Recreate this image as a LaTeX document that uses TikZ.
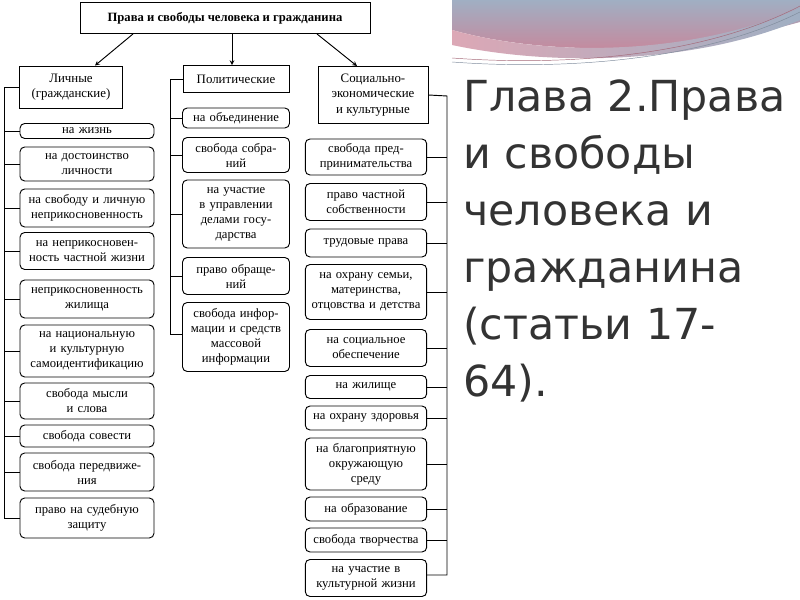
\documentclass[tikz,border=0pt]{standalone}
\usepackage{fontspec}
\setmainfont{Liberation Serif}
\newfontfamily\slidefont{DejaVu Sans}
\usetikzlibrary{arrows.meta}
\definecolor{slidegray}{RGB}{51,51,51}
\definecolor{swooshblue}{RGB}{160,175,195}
\definecolor{swooshpink}{RGB}{205,130,150}
\tikzset{>=stealth}
\tikzset{%
    head/.style={draw, thick, align=center, inner sep=1pt, font=\fontsize{11}{13}\selectfont},
    item/.style={draw, thick, rounded corners=4pt, align=center, inner sep=1pt,
        font=\fontsize{10.8}{12.8}\selectfont},
    branch/.style={thick}
}
\begin{document}
\begin{tikzpicture}[x=0.03cm,y=-0.03cm]
\useasboundingbox (0,0) rectangle (800,600);

% decoration of the slide
\shade[left color=swooshblue, right color=swooshpink, shading angle=0]
  (452,0) -- (800,0) -- (800,22) .. controls (700,50) and (560,60) .. (452,30) -- cycle;
\shade[left color=swooshpink!70, right color=swooshblue]
  (452,30) .. controls (560,60) and (700,52) .. (800,8) -- (800,20) .. controls (700,62) and (560,68) .. (452,45) -- cycle;
\draw[swooshpink!80!black, thin] (452,58) .. controls (560,66) and (700,58) .. (800,6);
\draw[swooshblue!80!black, thin] (452,62) .. controls (560,70) and (700,62) .. (800,12);

\node[text=slidegray, anchor=north west, align=left, inner sep=0pt,
      font=\slidefont\fontsize{36.5}{48.5}\selectfont] (title) at (463,80)
  {Глава 2.Права\\и свободы\\человека и\\гражданина\\(статьи 17-\\64).};

% header
\node[head, font=\bfseries\fontsize{10.8}{12.8}\selectfont, minimum width=290*0.03cm, minimum height=31*0.03cm]
  (main) at (225,18) {Права и свободы человека и гражданина};

\node[head, minimum width=103*0.03cm, minimum height=42*0.03cm] (pers) at (71,87) {Личные\\(гражданские)};
\node[head, minimum width=106*0.03cm, minimum height=27*0.03cm] (pol) at (236,79) {Политические};
\node[head, minimum width=110*0.03cm, minimum height=57*0.03cm] (soc) at (373,95) {Социально-\\экономические\\и культурные};

\draw[->, thick] (main.south -| 133,0) -- (pers.north -| 95,0);
\draw[->, thick] (main.south -| 232,0) -- (pol.north -| 232,0);
\draw[->, thick] (main.south -| 317,0) -- (soc.north -| 357,0);

% personal rights
\tikzset{lbox/.style={item, text width=130*0.03cm, minimum width=134*0.03cm}}
\node[lbox, minimum height=15*0.03cm] (p1) at (87,131) {на жизнь};
\node[lbox, minimum height=34*0.03cm] (p2) at (87,164) {на достоинство\\личности};
\node[lbox, minimum height=38*0.03cm] (p3) at (87,208) {на свободу и личную\\неприкосновенность};
\node[lbox, minimum height=37*0.03cm] (p4) at (87,251) {на неприкосновен-\\ность частной жизни};
\node[lbox, minimum height=38*0.03cm] (p5) at (87,299) {неприкосновенность\\жилища};
\node[lbox, minimum height=52*0.03cm] (p6) at (87,351) {на национальную\\и культурную\\самоидентификацию};
\node[lbox, minimum height=36*0.03cm] (p7) at (87,401) {свобода мысли\\и слова};
\node[lbox, minimum height=22*0.03cm] (p8) at (87,436) {свобода совести};
\node[lbox, minimum height=38*0.03cm] (p9) at (87,472) {свобода передвиже-\\ния};
\node[lbox, minimum height=40*0.03cm] (p10) at (87,518) {право на судебную\\защиту};

\coordinate (ptop) at (4,87);
\coordinate (pbot) at (4,518);
\draw[branch] (pers.west) -- (ptop) -- (pbot) -- (p10.west);
\foreach \n in {p1,p2,p3,p4,p5,p6,p7,p8,p9}
  \draw[branch] (\n.west) -- (\n.west -| ptop);

% political rights
\tikzset{mbox/.style={item, text width=104*0.03cm, minimum width=107*0.03cm}}
\node[mbox, minimum height=20*0.03cm] (q1) at (236,118) {на объединение};
\node[mbox, minimum height=35*0.03cm] (q2) at (236,155) {свобода собра-\\ний};
\node[mbox, minimum height=68*0.03cm] (q3) at (236,214) {на участие\\в управлении\\делами госу-\\дарства};
\node[mbox, minimum height=37*0.03cm] (q4) at (236,276) {право обраще-\\ний};
\node[mbox, minimum height=69*0.03cm] (q5) at (236,337) {свобода инфор-\\мации и средств\\массовой\\информации};

\coordinate (qtop) at (170,79);
\coordinate (qbot) at (170,334);
\draw[branch] (pol.west) -- (qtop) -- (qbot) -- (q5.west |- qbot);
\foreach \n in {q1,q2,q3,q4}
  \draw[branch] (\n.west) -- (\n.west -| qtop);

% social rights
\tikzset{rbox/.style={item, text width=119*0.03cm, minimum width=121*0.03cm}}
\node[rbox, minimum height=36*0.03cm] (s1) at (366,157) {свобода пред-\\принимательства};
\node[rbox, minimum height=37*0.03cm] (s2) at (366,202) {право частной\\собственности};
\node[rbox, minimum height=28*0.03cm] (s3) at (366,243) {трудовые права};
\node[rbox, minimum height=55*0.03cm] (s4) at (366,292) {на охрану семьи,\\материнства,\\отцовства и детства};
\node[rbox, minimum height=37*0.03cm] (s5) at (366,348) {на социальное\\обеспечение};
\node[rbox, minimum height=23*0.03cm] (s6) at (366,387) {на жилище};
\node[rbox, minimum height=24*0.03cm] (s7) at (366,418) {на охрану здоровья};
\node[rbox, minimum height=52*0.03cm] (s8) at (366,464) {на благоприятную\\окружающую\\среду};
\node[rbox, minimum height=24*0.03cm] (s9) at (366,509) {на образование};
\node[rbox, minimum height=24*0.03cm] (s10) at (366,540) {свобода творчества};
\node[rbox, minimum height=37*0.03cm] (s11) at (366,578) {на участие в\\культурной жизни};

\coordinate (stop) at (447,96);
\coordinate (sbot) at (447,575);
\draw[branch] (soc.east) -- (stop) -- (sbot) -- (s11.east |- sbot);
\foreach \n in {s1,s2,s3,s4,s5,s6,s7,s8,s9,s10}
  \draw[branch] (\n.east) -- (\n.east -| stop);
\end{tikzpicture}
\end{document}
